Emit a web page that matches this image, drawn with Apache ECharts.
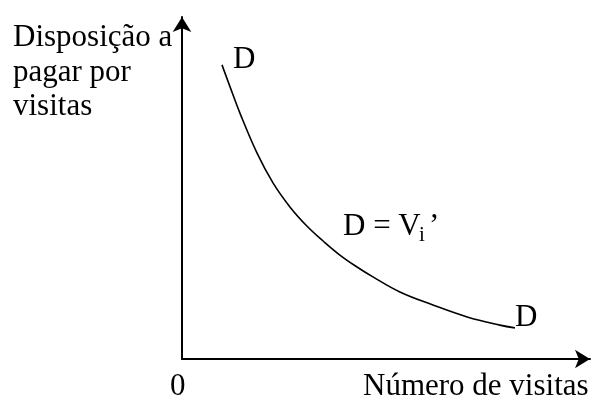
<!DOCTYPE html>
<html>
<head>
<meta charset="utf-8">
<script src="https://cdn.jsdelivr.net/npm/echarts@6/dist/echarts.min.js"></script>
<style>
  html, body { margin: 0; padding: 0; background: #fff; }
  #chart { width: 595px; height: 400px; }
</style>
</head>
<body>
<div id="chart"></div>
<script>
// curva de demanda (unidades arbitrarias, 0-100)
const quantidade = [9.8, 11.8, 14.2, 18.4, 22.3, 26.5, 30.6, 34.6, 38.7, 42.9, 46.8, 53.4, 61.5, 69.9, 77.9, 81.6];
const disposicao = [86.0, 79.5, 71.9, 60.2, 51.5, 44.4, 38.9, 34.5, 30.4, 26.9, 24.0, 19.6, 15.8, 12.3, 9.9, 9.1];

const tituloY = ['Disposição a', 'pagar por', 'visitas'];
const tituloX = 'Número de visitas';
const origem = '0';

const fonte = '31px "Liberation Serif", "Times New Roman", serif';
const fonteSub = '21px "Liberation Serif", "Times New Roman", serif';

function texto(str, x, y, font) {
  return {
    type: 'text',
    left: x,
    top: y,
    style: { text: str, font: font || fonte, fill: '#000' }
  };
}

const chart = echarts.init(document.getElementById('chart'));

const option = {
  animation: false,
  grid: { left: 182, right: 5, top: 17, bottom: 41 },
  xAxis: {
    type: 'value',
    min: 0,
    max: 100,
    axisLine: { show: true, symbol: ['none', 'arrow'], symbolSize: [14, 15], lineStyle: { color: '#000', width: 2 } },
    axisTick: { show: false },
    axisLabel: { show: false },
    splitLine: { show: false }
  },
  yAxis: {
    type: 'value',
    min: 0,
    max: 100,
    axisLine: { show: true, symbol: ['none', 'arrow'], symbolSize: [14, 15], lineStyle: { color: '#000', width: 2 } },
    axisTick: { show: false },
    axisLabel: { show: false },
    splitLine: { show: false }
  },
  series: [
    {
      type: 'line',
      data: quantidade.map((q, i) => [q, disposicao[i]]),
      smooth: 0.4,
      showSymbol: false,
      lineStyle: { color: '#000', width: 1.6 }
    }
  ],
  graphic: [
    texto(tituloY[0], 13, 22),
    texto(tituloY[1], 13, 57),
    texto(tituloY[2], 13, 91),
    texto(origem, 170, 371),
    texto(tituloX, 363, 371),
    texto('D', 233, 44),
    texto('D = V', 343, 211),
    texto('i', 419, 225, fonteSub),
    texto('’', 429, 211),
    texto('D', 515, 302)
  ]
};

chart.setOption(option);
</script>
</body>
</html>
